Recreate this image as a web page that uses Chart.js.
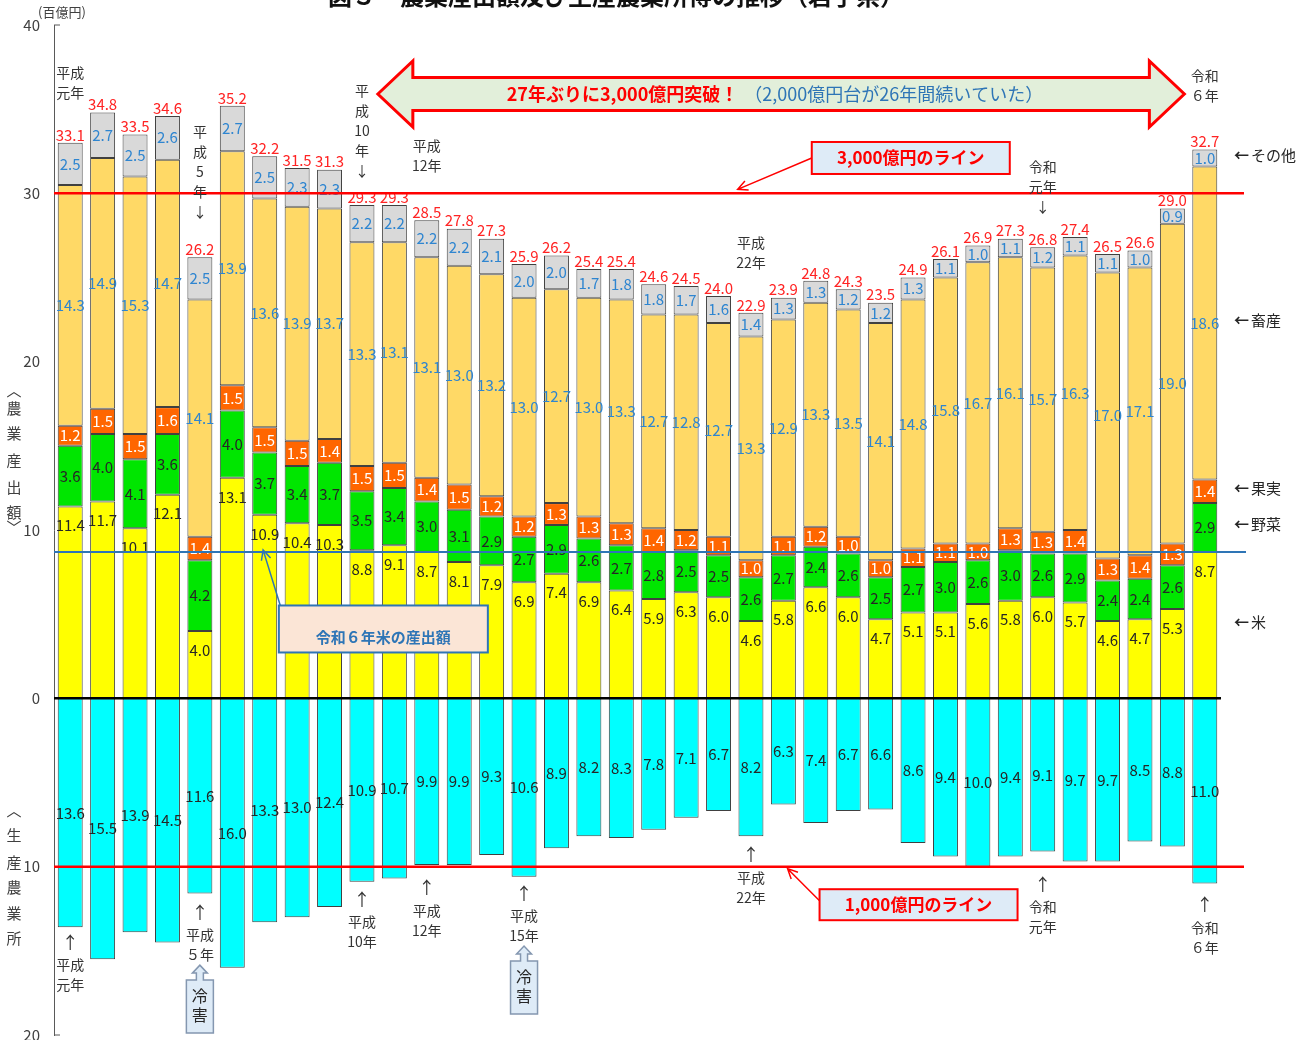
<!DOCTYPE html>
<html lang="ja">
<head>
<meta charset="utf-8">
<title>農業産出額及び生産農業所得の推移（岩手県）</title>
<script src="https://cdn.jsdelivr.net/npm/chart.js@4.4.1/dist/chart.umd.min.js"></script>
<style>
  html, body { margin: 0; padding: 0; background: #fff; }
  #wrap { width: 1308px; height: 1040px; }
</style>
</head>
<body>
<div id="wrap"><canvas id="myChart" width="1308" height="1040"></canvas></div>
<script>
// Data (単位：百億円)
///////////////////////////////////////////////////////////////
const years = [
    '平成元年', '平成2年', '平成3年', '平成4年', '平成5年', '平成6年', '平成7年', '平成8年', '平成9年', '平成10年',
    '平成11年', '平成12年', '平成13年', '平成14年', '平成15年', '平成16年', '平成17年', '平成18年', '平成19年', '平成20年',
    '平成21年', '平成22年', '平成23年', '平成24年', '平成25年', '平成26年', '平成27年', '平成28年', '平成29年', '平成30年',
    '令和元年', '令和2年', '令和3年', '令和4年', '令和5年', '令和6年'
];
const rice       = [11.4, 11.7, 10.1, 12.1, 4.0, 13.1, 10.9, 10.4, 10.3, 8.8, 9.1, 8.7, 8.1, 7.9, 6.9, 7.4, 6.9, 6.4, 5.9, 6.3, 6.0, 4.6, 5.8, 6.6, 6.0, 4.7, 5.1, 5.1, 5.6, 5.8, 6.0, 5.7, 4.6, 4.7, 5.3, 8.7];
const vegetables = [3.6, 4.0, 4.1, 3.6, 4.2, 4.0, 3.7, 3.4, 3.7, 3.5, 3.4, 3.0, 3.1, 2.9, 2.7, 2.9, 2.6, 2.7, 2.8, 2.5, 2.5, 2.6, 2.7, 2.4, 2.6, 2.5, 2.7, 3.0, 2.6, 3.0, 2.6, 2.9, 2.4, 2.4, 2.6, 2.9];
const fruit      = [1.2, 1.5, 1.5, 1.6, 1.4, 1.5, 1.5, 1.5, 1.4, 1.5, 1.5, 1.4, 1.5, 1.2, 1.2, 1.3, 1.3, 1.3, 1.4, 1.2, 1.1, 1.0, 1.1, 1.2, 1.0, 1.0, 1.1, 1.1, 1.0, 1.3, 1.3, 1.4, 1.3, 1.4, 1.3, 1.4];
const livestock  = [14.3, 14.9, 15.3, 14.7, 14.1, 13.9, 13.6, 13.9, 13.7, 13.3, 13.1, 13.1, 13.0, 13.2, 13.0, 12.7, 13.0, 13.3, 12.7, 12.8, 12.7, 13.3, 12.9, 13.3, 13.5, 14.1, 14.8, 15.8, 16.7, 16.1, 15.7, 16.3, 17.0, 17.1, 19.0, 18.6];
const others     = [2.5, 2.7, 2.5, 2.6, 2.5, 2.7, 2.5, 2.3, 2.3, 2.2, 2.2, 2.2, 2.2, 2.1, 2.0, 2.0, 1.7, 1.8, 1.8, 1.7, 1.6, 1.4, 1.3, 1.3, 1.2, 1.2, 1.3, 1.1, 1.0, 1.1, 1.2, 1.1, 1.1, 1.0, 0.9, 1.0];
const totals     = [33.1, 34.8, 33.5, 34.6, 26.2, 35.2, 32.2, 31.5, 31.3, 29.3, 29.3, 28.5, 27.8, 27.3, 25.9, 26.2, 25.4, 25.4, 24.6, 24.5, 24.0, 22.9, 23.9, 24.8, 24.3, 23.5, 24.9, 26.1, 26.9, 27.3, 26.8, 27.4, 26.5, 26.6, 29.0, 32.7];
const income     = [13.6, 15.5, 13.9, 14.5, 11.6, 16.0, 13.3, 13.0, 12.4, 10.9, 10.7, 9.9, 9.9, 9.3, 10.6, 8.9, 8.2, 8.3, 7.8, 7.1, 6.7, 8.2, 6.3, 7.4, 6.7, 6.6, 8.6, 9.4, 10.0, 9.4, 9.1, 9.7, 9.7, 8.5, 8.8, 11.0];
const segNames   = ['米', '野菜', '果実', '畜産', 'その他'];

// year notes: i = category index, v = value where first line sits
const topNotes = [
    { i: 0,  v: 37.15, lines: ['平成', '元年'] },
    { i: 4,  v: 33.65, lines: ['平', '成', '5', '年', '↓'] },
    { i: 9,  v: 36.08, lines: ['平', '成', '10', '年', '↓'] },
    { i: 11, v: 32.82, lines: ['平成', '12年'] },
    { i: 21, v: 27.06, lines: ['平成', '22年'] },
    { i: 30, v: 31.57, lines: ['令和', '元年', '↓'] },
    { i: 35, v: 36.97, lines: ['令和', '６年'] }
];
const bottomNotes = [
    { i: 0,  v: -14.48, lines: ['↑', '平成', '元年'] },
    { i: 4,  v: -12.70, lines: ['↑', '平成', '５年'], cold: true },
    { i: 9,  v: -11.93, lines: ['↑', '平成', '10年'] },
    { i: 11, v: -11.22, lines: ['↑', '平成', '12年'] },
    { i: 14, v: -11.57, lines: ['↑', '平成', '15年'], cold: true },
    { i: 21, v: -9.26,  lines: ['↑', '平成', '22年'] },
    { i: 30, v: -11.04, lines: ['↑', '令和', '元年'] },
    { i: 35, v: -12.23, lines: ['↑', '令和', '６年'] }
];

// Helpers
///////////////////////////////////////////////////////////////
const FONT = '"Noto Sans CJK JP", "Noto Sans", sans-serif';
const BLUE = '#2E85D0';
const INK = '#262626';
Chart.defaults.font.family = FONT;

function label(ctx, s, x, y, size, color, bold, align) {
    ctx.font = (bold ? 'bold ' : '') + size + 'px ' + FONT;
    ctx.fillStyle = color;
    ctx.textAlign = align || 'center';
    ctx.textBaseline = 'middle';
    ctx.fillText(s, x, y);
}

function hline(ctx, x1, x2, y, color, w) {
    ctx.strokeStyle = color;
    ctx.lineWidth = w;
    ctx.beginPath();
    ctx.moveTo(x1, y);
    ctx.lineTo(x2, y);
    ctx.stroke();
}

function box(ctx, cx, cy, w, h, fill, stroke) {
    ctx.fillStyle = fill;
    ctx.fillRect(cx - w / 2, cy - h / 2, w, h);
    ctx.strokeStyle = stroke;
    ctx.lineWidth = 2;
    ctx.strokeRect(cx - w / 2, cy - h / 2, w, h);
}

function pointer(ctx, x1, y1, x2, y2, color) {
    const a = Math.atan2(y2 - y1, x2 - x1), L = 11, s = 0.45;
    ctx.strokeStyle = color;
    ctx.lineWidth = 1.5;
    ctx.beginPath();
    ctx.moveTo(x1, y1);
    ctx.lineTo(x2, y2);
    ctx.moveTo(x2 - L * Math.cos(a - s), y2 - L * Math.sin(a - s));
    ctx.lineTo(x2, y2);
    ctx.lineTo(x2 - L * Math.cos(a + s), y2 - L * Math.sin(a + s));
    ctx.stroke();
}

function doubleArrow(ctx, x1, x2, cy) {
    const hl = 35, hh = 33, sh = 16.5;
    ctx.beginPath();
    ctx.moveTo(x1, cy);
    ctx.lineTo(x1 + hl, cy - hh);
    ctx.lineTo(x1 + hl, cy - sh);
    ctx.lineTo(x2 - hl, cy - sh);
    ctx.lineTo(x2 - hl, cy - hh);
    ctx.lineTo(x2, cy);
    ctx.lineTo(x2 - hl, cy + hh);
    ctx.lineTo(x2 - hl, cy + sh);
    ctx.lineTo(x1 + hl, cy + sh);
    ctx.lineTo(x1 + hl, cy + hh);
    ctx.closePath();
    ctx.fillStyle = '#E2EFDA';
    ctx.fill();
    ctx.strokeStyle = '#FF0000';
    ctx.lineWidth = 3;
    ctx.stroke();
}

function coldBox(ctx, cx, tipY) {
    const top = tipY + 15, bottom = top + 53, w = 27, nw = 3.5, hw = 7.5;
    ctx.beginPath();
    ctx.moveTo(cx - w / 2, top);
    ctx.lineTo(cx - nw, top);
    ctx.lineTo(cx - nw, top - 7);
    ctx.lineTo(cx - hw, top - 7);
    ctx.lineTo(cx, tipY);
    ctx.lineTo(cx + hw, top - 7);
    ctx.lineTo(cx + nw, top - 7);
    ctx.lineTo(cx + nw, top);
    ctx.lineTo(cx + w / 2, top);
    ctx.lineTo(cx + w / 2, bottom);
    ctx.lineTo(cx - w / 2, bottom);
    ctx.closePath();
    ctx.fillStyle = '#DEEBF7';
    ctx.fill();
    ctx.strokeStyle = '#8497B0';
    ctx.lineWidth = 1.5;
    ctx.stroke();
    label(ctx, '冷', cx, top + 16, 16, INK);
    label(ctx, '害', cx, top + 35, 16, INK);
}

// Overlay plugin: labels, reference lines, callouts
///////////////////////////////////////////////////////////////
const overlay = {
    id: 'overlay',
    afterDatasetsDraw(chart) {
        const ctx = chart.ctx, area = chart.chartArea;
        const xs = chart.scales.x, ys = chart.scales.y;
        const px = i => xs.getPixelForValue(i);
        const py = v => ys.getPixelForValue(v);
        ctx.save();

        // segment labels
        const segColors = [INK, INK, '#FFFFFF', BLUE, BLUE, INK];
        chart.data.datasets.forEach((ds, d) => {
            chart.getDatasetMeta(d).data.forEach((bar, i) => {
                const top = Math.min(bar.y, bar.base), bottom = Math.max(bar.y, bar.base);
                const y = d === 0 ? top + 19 : (top + bottom) / 2;
                label(ctx, Math.abs(ds.data[i]).toFixed(1), bar.x, y, 15, segColors[d]);
            });
        });
        // totals
        chart.getDatasetMeta(4).data.forEach((bar, i) => {
            label(ctx, totals[i].toFixed(1), bar.x, bar.y - 8, 15, '#FF2424');
        });

        // reference lines
        hline(ctx, area.left, area.right, py(0), '#000000', 2.5);
        hline(ctx, area.left, area.right + 23, py(30), '#FF0000', 2.5);
        hline(ctx, area.left, area.right + 23, py(-10), '#FF0000', 2.5);
        hline(ctx, area.left, area.right + 25, py(rice[rice.length - 1]), '#2E75B6', 2);

        // small axis ticks at ends
        hline(ctx, area.left, area.left + 6, py(40), '#595959', 1);
        hline(ctx, area.left, area.left + 6, py(-20), '#595959', 1);

        // unit and vertical axis titles
        label(ctx, '(百億円)', 62, 12, 13, '#404040');
        const t1 = ['︿', '農', '業', '産', '出', '額', '﹀'], o1 = [0, 18, 43, 70, 97, 122, 137];
        t1.forEach((c, k) => label(ctx, c, 14, py(18.28) + o1[k], 15, '#404040'));
        const t2 = ['︿', '生', '産', '農', '業', '所'], o2 = [0, 25, 52, 77, 103, 128];
        t2.forEach((c, k) => label(ctx, c, 14, py(-6.65) + o2[k], 15, '#404040'));

        // title (cut at the top edge)
        ctx.font = 'bold 24px ' + FONT;
        ctx.fillStyle = '#111';
        ctx.textAlign = 'center';
        ctx.textBaseline = 'alphabetic';
        ctx.fillText('図３　農業産出額及び生産農業所得の推移（岩手県）', 616, 5);

        // legend on the right, next to the last bar
        const last = years.length - 1;
        segNames.forEach((name, d) => {
            const bar = chart.getDatasetMeta(d).data[last];
            const y = (bar.y + bar.base) / 2 - 3;
            label(ctx, '←', area.right + 13, y, 15, INK, true, 'left');
            label(ctx, name, area.right + 30, y, 15, INK, false, 'left');
        });

        // year notes
        topNotes.forEach(n => {
            n.lines.forEach((s, k) => label(ctx, s, px(n.i), py(n.v) + k * 20, 14, '#333'));
        });
        bottomNotes.forEach(n => {
            const y0 = py(n.v);
            label(ctx, n.lines[0], px(n.i), y0, 17, '#333');
            label(ctx, n.lines[1], px(n.i), y0 + 23, 14, '#333');
            label(ctx, n.lines[2], px(n.i), y0 + 43, 14, '#333');
            if (n.cold) coldBox(ctx, px(n.i), y0 + 53);
        });

        // big double arrow
        const cy = py(35.9);
        doubleArrow(ctx, px(9.49), px(34.37), cy);
        const red = '27年ぶりに3,000億円突破！', blue = '（2,000億円台が26年間続いていた）';
        ctx.font = 'bold 18px ' + FONT;
        const wr = ctx.measureText(red).width;
        ctx.font = '18px ' + FONT;
        const wb = ctx.measureText(blue).width;
        const sx = 775 - (wr + wb + 6) / 2;
        label(ctx, red, sx, cy, 18, '#FF0000', true, 'left');
        label(ctx, blue, sx + wr + 6, cy, 18, '#2E75B6', false, 'left');

        // callout: 3,000億円のライン
        const b1x = px(25.93), b1y = py(32.1);
        pointer(ctx, b1x - 99, b1y, px(20.59), py(30) - 4, '#FF0000');
        box(ctx, b1x, b1y, 198, 32, '#DEEBF7', '#FF0000');
        label(ctx, '3,000億円のライン', b1x, b1y, 17, '#FF0000', true);

        // callout: 令和6年米の産出額
        const b2x = px(9.66), b2y = py(4.12);
        pointer(ctx, b2x - 102, b2y - 20, px(5.95), py(rice[last]) - 2, '#2E75B6');
        box(ctx, b2x, b2y, 209, 47, '#FBE5D6', '#2E75B6');
        label(ctx, '令和６年米の産出額', b2x, b2y + 8, 15, '#2E75B6', true);

        // callout: 1,000億円のライン
        const b3x = px(26.17), b3y = py(-12.26);
        pointer(ctx, b3x - 99, b3y - 4, px(22.13), py(-10) + 2, '#FF0000');
        box(ctx, b3x, b3y, 198, 31, '#DEEBF7', '#FF0000');
        label(ctx, '1,000億円のライン', b3x, b3y, 17, '#FF0000', true);

        ctx.restore();
    }
};

// Chart
///////////////////////////////////////////////////////////////
const segColorsFill = ['#FFFF00', '#00E600', '#FF6600', '#FFD966', '#D9D9D9'];
const segData = [rice, vegetables, fruit, livestock, others];

const datasets = segData.map((arr, d) => ({
    label: segNames[d],
    data: arr,
    backgroundColor: segColorsFill[d]
}));
datasets.push({
    label: '生産農業所得',
    data: income.map(v => -v),
    backgroundColor: '#00FFFF'
});

new Chart(document.getElementById('myChart'), {
    type: 'bar',
    data: { labels: years, datasets: datasets },
    options: {
        responsive: false,
        animation: false,
        layout: { padding: { left: 0, right: 87, top: 25, bottom: 5 } },
        datasets: {
            bar: {
                barPercentage: 0.77,
                categoryPercentage: 1.0,
                borderWidth: 1,
                borderColor: '#404040',
                borderSkipped: false
            }
        },
        scales: {
            x: { display: false, stacked: true },
            y: {
                stacked: true,
                min: -20,
                max: 40,
                ticks: {
                    stepSize: 10,
                    callback: v => Math.abs(v),
                    color: '#404040',
                    font: { size: 15 },
                    padding: 14
                },
                grid: { display: false, drawTicks: false },
                border: { display: true, color: '#595959', width: 1 },
                afterFit(scale) {
                    scale.width = 54;
                    scale.paddingTop = 0;
                    scale.paddingBottom = 0;
                }
            }
        },
        plugins: {
            legend: { display: false },
            tooltip: { enabled: false }
        }
    },
    plugins: [overlay]
});
</script>
</body>
</html>
